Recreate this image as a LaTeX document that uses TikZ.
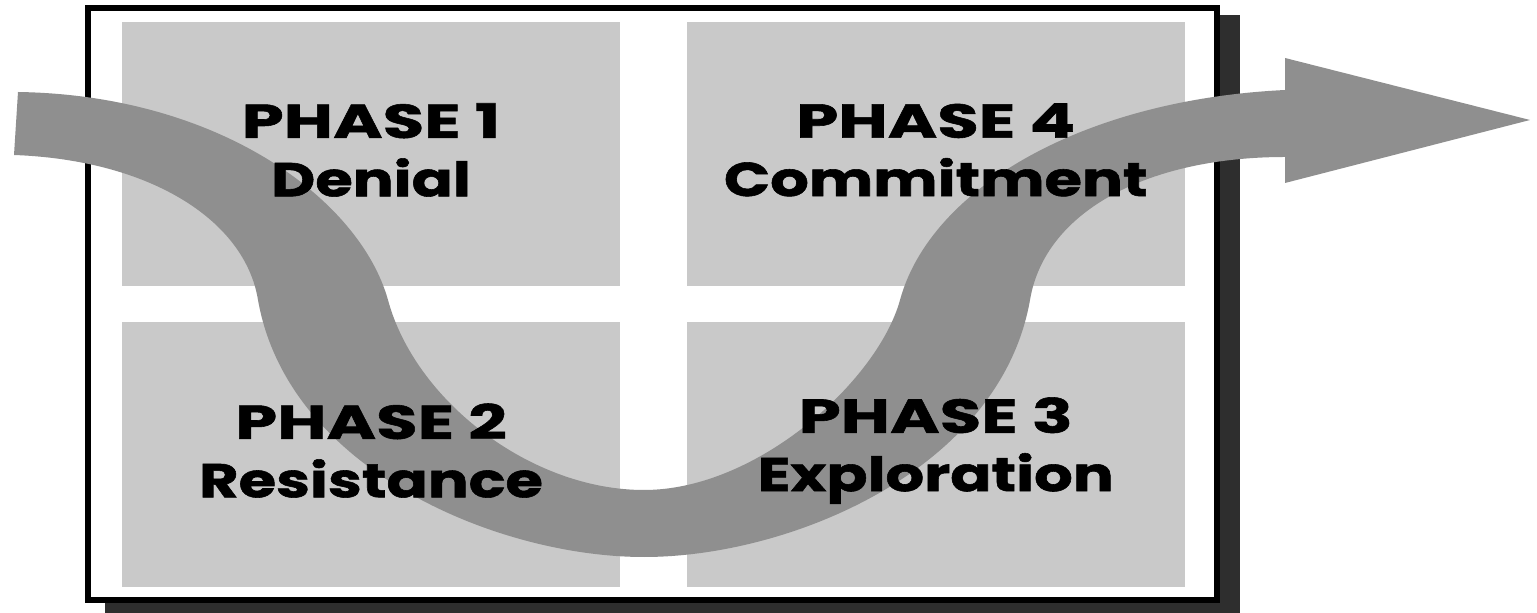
\documentclass[tikz,border=0pt]{standalone}
\usepackage{fontspec}
\newfontfamily\phasecaps{Poppins}[FakeStretch=1.42, FakeBold=1.2]
\newfontfamily\phaseword{Poppins}[FakeStretch=1.28, FakeBold=1.2]
\usetikzlibrary{positioning}

\definecolor{panelgray}{gray}{0.79}
\definecolor{bandgray}{gray}{0.56}
\definecolor{shadowgray}{gray}{0.18}

\begin{document}
\begin{tikzpicture}[x=0.01cm, y=-0.01cm,
  panel/.style={fill=panelgray, minimum width=4.98cm, minimum height=2.64cm, inner sep=0pt},
  phase/.style={font=\phaseword\bfseries\fontsize{13.5}{16.6}\selectfont, align=center,
                text=black, yshift=0.4mm}]

  \useasboundingbox (0,0) rectangle (1537,613);

  % Cadre et ombre portee.
  \fill[shadowgray] (105,15) rectangle (1240,613);
  \draw[line width=1.6pt, fill=white] (88,8) rectangle (1217,600);

  % Les quatre panneaux.
  \node[panel] (p1) at (371,154) {};
  \node[panel, right=0.65cm of p1] (p4) {};
  \node[panel, below=0.35cm of p1] (p2) {};
  \node[panel, below=0.35cm of p4] (p3) {};

  % La fleche en U : bord gauche, pointe, bord droit.
  \fill[bandgray] (18,92) .. controls (220,95) and (360,200) .. (388,300)
    .. controls (415,400) and (530,490) .. (644,490)
    .. controls (758,490) and (878,380) .. (900,300)
    .. controls (930,190) and (1080,100) .. (1285,90)
    -- (1285,58) -- (1530,120) -- (1285,183) -- (1285,157)
    .. controls (1150,157) and (1045,210) .. (1030,300)
    .. controls (1000,470) and (790,557) .. (644,557)
    .. controls (498,557) and (288,470) .. (258,300)
    .. controls (245,220) and (150,160) .. (14,155)
    -- cycle;

  % Les textes.
  \node[phase] (t1) at (p1) {{\phasecaps PHASE 1}\\Denial};
  \node[phase] (t4) at (p4) {{\phasecaps PHASE 4}\\Commitment};
  \node[phase] (t2) at (p2) {{\phasecaps PHASE 2}\\Resistance};
  \node[phase] (t3) at (p3) {{\phasecaps PHASE 3}\\Exploration};

\end{tikzpicture}
\end{document}
